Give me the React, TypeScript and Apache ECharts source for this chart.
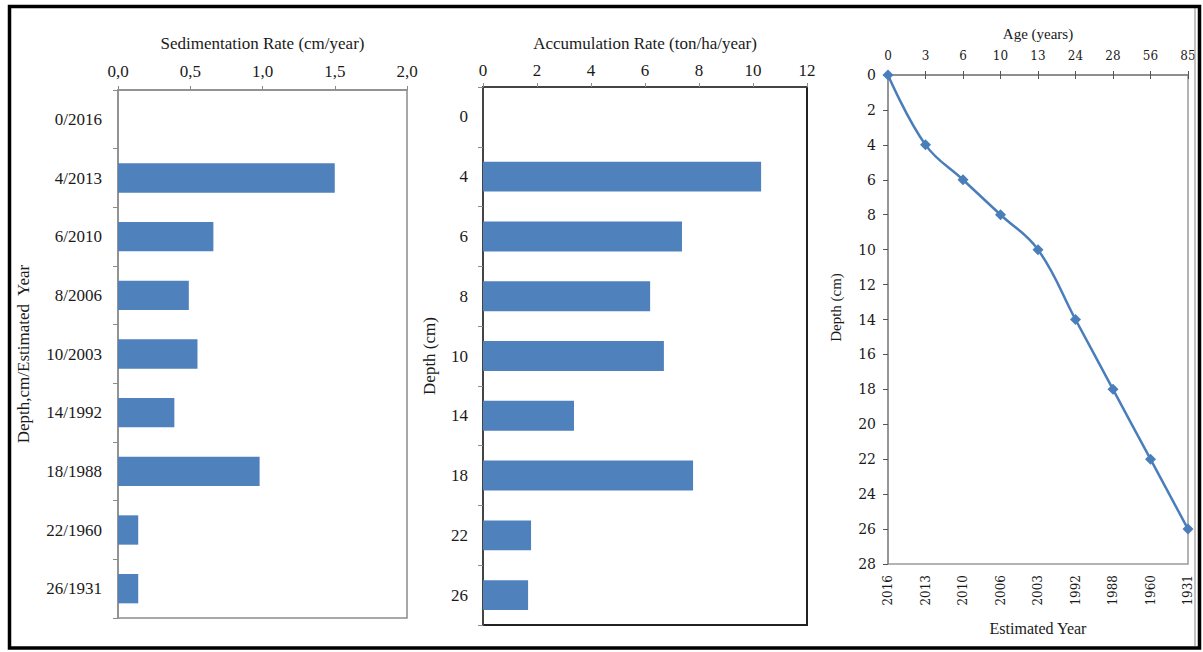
import React, { useEffect, useRef } from "react";
import * as echarts from "echarts";

// ---- data ----
const sedCategories = ["0/2016", "4/2013", "6/2010", "8/2006", "10/2003", "14/1992", "18/1988", "22/1960", "26/1931"];
const sedRates = [0, 1.5, 0.66, 0.49, 0.55, 0.39, 0.98, 0.14, 0.14];

const depthCategories = ["0", "4", "6", "8", "10", "14", "18", "22", "26"];
const accRates = [0, 10.3, 7.37, 6.19, 6.7, 3.37, 7.78, 1.78, 1.67];

const estimatedYears = ["2016", "2013", "2010", "2006", "2003", "1992", "1988", "1960", "1931"];
const ageYears = ["0", "3", "6", "10", "13", "24", "28", "56", "85"];
const depthValues = [0, 4, 6, 8, 10, 14, 18, 22, 26];

const SERIF = '"Liberation Serif", "Times New Roman", serif';
const SERIF2 = '"DejaVu Serif", "Liberation Serif", serif';
const BAR = "#4f81bd";
const TXT = "#1a1a1a";

export default function App() {
  const ref = useRef<HTMLDivElement>(null);
  useEffect(() => {
    if (!ref.current) return;
    const chart = echarts.init(ref.current, null, { renderer: "svg" });
    const gray = "#8c8c8c";
    const option: any = {
      animation: false,
      backgroundColor: "#ffffff",
      grid: [
        { left: 118, top: 90, width: 289, height: 528, show: true, borderColor: gray, borderWidth: 1.5, backgroundColor: "transparent" },
        { left: 483, top: 87, width: 324, height: 538, show: true, borderColor: "#222", borderWidth: 2, backgroundColor: "transparent" },
        { left: 888, top: 75, width: 300, height: 489, show: true, borderColor: "#9a9a9a", borderWidth: 1.5, backgroundColor: "transparent" },
      ],
      xAxis: [
        {
          gridIndex: 0, type: "value", position: "top", min: 0, max: 2, interval: 0.5,
          name: "Sedimentation Rate (cm/year)", nameLocation: "middle", nameGap: 38,
          nameTextStyle: { fontFamily: SERIF, fontSize: 17, color: TXT },
          axisLine: { show: true, lineStyle: { color: gray, width: 1.5 } },
          axisTick: { show: true, length: 4, lineStyle: { color: gray } },
          splitLine: { show: false },
          axisLabel: { margin: 10, fontFamily: SERIF, fontSize: 17, color: TXT, formatter: (v: number) => v.toFixed(1).replace(".", ",") },
        },
        {
          gridIndex: 1, type: "value", position: "top", min: 0, max: 12, interval: 2,
          name: "Accumulation Rate (ton/ha/year)", nameLocation: "middle", nameGap: 35,
          nameTextStyle: { fontFamily: SERIF, fontSize: 17, color: TXT },
          axisLine: { show: true, lineStyle: { color: "#444", width: 2 } },
          axisTick: { show: true, length: 4, lineStyle: { color: gray } },
          splitLine: { show: false },
          axisLabel: { margin: 8, fontFamily: SERIF, fontSize: 17, color: TXT },
        },
        {
          gridIndex: 2, type: "category", position: "bottom", data: estimatedYears, boundaryGap: false,
          name: "Estimated Year", nameLocation: "middle", nameGap: 56,
          nameTextStyle: { fontFamily: SERIF, fontSize: 16, color: TXT },
          axisLine: { show: true, lineStyle: { color: gray, width: 1.5 } },
          axisTick: { show: true, length: 4, inside: false, lineStyle: { color: "#555" } },
          splitLine: { show: false },
          axisLabel: { rotate: 90, margin: 11, fontFamily: SERIF2, fontSize: 12, color: TXT, interval: 0 },
        },
        {
          gridIndex: 2, type: "category", position: "top", data: ageYears, boundaryGap: false,
          name: "Age (years)", nameLocation: "middle", nameGap: 34,
          nameTextStyle: { fontFamily: SERIF, fontSize: 15, color: TXT },
          axisLine: { show: true, lineStyle: { color: gray, width: 1.5 } },
          axisTick: { show: true, length: 4, lineStyle: { color: "#555" } },
          splitLine: { show: false },
          axisLabel: { margin: 13, fontFamily: SERIF2, fontSize: 12, color: TXT, interval: 0 },
        },
      ],
      yAxis: [
        {
          gridIndex: 0, type: "category", data: sedCategories, inverse: true,
          name: "Depth,cm/Estimated  Year", nameLocation: "middle", nameGap: 86, nameRotate: 90,
          nameTextStyle: { fontFamily: SERIF, fontSize: 17, color: TXT },
          axisLine: { show: true, lineStyle: { color: gray, width: 1.5 } },
          axisTick: { show: true, length: 5, lineStyle: { color: gray } },
          axisLabel: { margin: 16, fontFamily: SERIF, fontSize: 17, color: TXT },
        },
        {
          gridIndex: 1, type: "category", data: depthCategories, inverse: true,
          name: "Depth (cm)", nameLocation: "middle", nameGap: 45, nameRotate: 90,
          nameTextStyle: { fontFamily: SERIF, fontSize: 17, color: TXT },
          axisLine: { show: true, lineStyle: { color: "#444", width: 2 } },
          axisTick: { show: true, length: 5, lineStyle: { color: gray } },
          axisLabel: { margin: 15, fontFamily: SERIF, fontSize: 17, color: TXT },
        },
        {
          gridIndex: 2, type: "value", inverse: true, min: 0, max: 28, interval: 2,
          name: "Depth (cm)", nameLocation: "middle", nameGap: 45, nameRotate: 90,
          nameTextStyle: { fontFamily: SERIF, fontSize: 15, color: TXT, padding: [0, 0, 0, 24] },
          axisLine: { show: true, lineStyle: { color: gray, width: 1.5 } },
          axisTick: { show: true, length: 5, lineStyle: { color: "#555" } },
          splitLine: { show: false },
          axisLabel: { margin: 12, fontFamily: SERIF2, fontSize: 14, color: TXT },
        },
      ],
      series: [
        {
          type: "bar", xAxisIndex: 0, yAxisIndex: 0, data: sedRates, barCategoryGap: "50%",
          itemStyle: { color: BAR, borderWidth: 0 },
        },
        {
          type: "bar", xAxisIndex: 1, yAxisIndex: 1, data: accRates, barCategoryGap: "50%",
          itemStyle: { color: BAR, borderWidth: 0 },
        },
        {
          type: "line", xAxisIndex: 2, yAxisIndex: 2, data: depthValues, smooth: 0.4,
          symbol: "diamond", symbolSize: 11,
          lineStyle: { color: "#4a7ebb", width: 2.5 },
          itemStyle: { color: "#4a7ebb" },
        },
      ],
      graphic: [
        { type: "line", shape: { x1: 1195, y1: 8, x2: 1195, y2: 646 }, style: { stroke: "#9a9a9a", lineWidth: 1.2 }, z: 10 },
        { type: "rect", shape: { x: 9.5, y: 6.5, width: 1190, height: 641.5 }, style: { fill: "none", stroke: "#000", lineWidth: 3.5 }, z: 11 },
      ],
    };
    chart.setOption(option);
    return () => chart.dispose();
  }, []);
  return (
    <div
      ref={ref}
      style={{ position: "fixed", left: 0, top: 0, width: 1203, height: 652, background: "#fff" }}
    />
  );
}
